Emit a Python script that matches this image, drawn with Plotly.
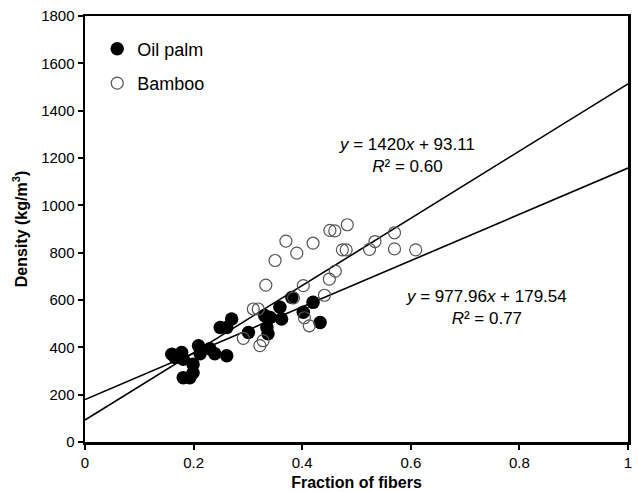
import plotly.graph_objects as go

# Oil palm (filled)
oil_x = [0.160, 0.178, 0.166, 0.181, 0.199, 0.209, 0.212, 0.230, 0.239, 0.261,
         0.181, 0.193, 0.199, 0.249, 0.270, 0.261, 0.301, 0.331, 0.335, 0.337,
         0.341, 0.359, 0.362, 0.381, 0.402, 0.420, 0.433]
oil_y = [371, 378, 357, 350, 329, 407, 373, 394, 373, 364,
         272, 272, 293, 484, 520, 484, 463, 534, 484, 457,
         526, 569, 520, 611, 548, 590, 505]

# Bamboo (open)
bam_x = [0.2915, 0.310, 0.319, 0.322, 0.328, 0.333, 0.350, 0.370, 0.390, 0.420,
         0.402, 0.384, 0.404, 0.413, 0.441, 0.450, 0.461, 0.451, 0.460, 0.483,
         0.474, 0.481, 0.524, 0.534, 0.570, 0.570, 0.609]
bam_y = [438, 562, 562, 407, 428, 663, 767, 849, 798, 840,
         661, 609, 525, 491, 620, 688, 722, 894, 892, 918,
         812, 812, 814, 847, 884, 816, 812]

# Trend lines (slope, intercept)
fit_bamboo = (1420.0, 93.11)
fit_oil = (977.96, 179.54)
line_x = [0, 1]

x_ticks = [0, 0.2, 0.4, 0.6, 0.8, 1]
x_tick_text = ["0", "0.2", "0.4", "0.6", "0.8", "1"]
y_ticks = [0, 200, 400, 600, 800, 1000, 1200, 1400, 1600, 1800]

FONT = "Liberation Sans, Arial, sans-serif"

fig = go.Figure()
for slope, icpt in (fit_bamboo, fit_oil):
    fig.add_trace(go.Scatter(
        x=line_x, y=[slope * v + icpt for v in line_x], mode="lines",
        line=dict(color="black", width=1.6), showlegend=False, hoverinfo="skip"))

fig.add_trace(go.Scatter(
    x=oil_x, y=oil_y, mode="markers", name="Oil palm", legendgroup="a",
    marker=dict(size=13.5, color="black", line=dict(width=0))))
fig.add_trace(go.Scatter(
    x=bam_x, y=bam_y, mode="markers", name="Bamboo", legendgroup="b",
    marker=dict(size=12, color="rgba(0,0,0,0)", line=dict(width=1.2, color="#555555"))))

ann_font = dict(family=FONT, size=17, color="black")
annotations = [
    dict(x=0.593, y=1211, text="<i>y</i> = 1420<i>x</i> + 93.11<br><i>R</i>² = 0.60"),
    dict(x=0.739, y=567, text="<i>y</i> = 977.96<i>x</i> + 179.54<br><i>R</i>² = 0.77"),
]
for a in annotations:
    fig.add_annotation(x=a["x"], y=a["y"], xref="x", yref="y", text=a["text"],
                       showarrow=False, font=ann_font, align="center")

axis_common = dict(showline=True, linecolor="black", linewidth=2.5, mirror=True,
                   ticks="outside", ticklen=5, tickwidth=2, tickcolor="black",
                   showgrid=False, zeroline=False, automargin=False,
                   tickfont=dict(family=FONT, size=15, color="black"))

fig.update_layout(
    width=638, height=492,
    margin=dict(l=85, r=10, t=16, b=50),
    paper_bgcolor="white", plot_bgcolor="white",
    showlegend=True, hovermode=False,
    legend=dict(x=0.0225, y=0.966, xanchor="left", yanchor="top",
                font=dict(family=FONT, size=18, color="black"),
                tracegroupgap=8, bgcolor="rgba(0,0,0,0)",
                itemwidth=30),
    xaxis=dict(range=[0, 1], tickvals=x_ticks, ticktext=x_tick_text,
               title=dict(text="<b>Fraction of fibers</b>", standoff=8,
                          font=dict(family=FONT, size=16, color="black")),
               **axis_common),
    yaxis=dict(range=[0, 1800], tickvals=y_ticks,
               title=dict(text="<b>Density (kg/m<sup>3</sup>)</b>", standoff=10,
                          font=dict(family=FONT, size=16, color="black")),
               **axis_common),
)

fig.write_html("out.html", config={"displayModeBar": False, "staticPlot": True},
               post_script="document.body.style.margin='0';document.body.style.overflow='hidden';")
